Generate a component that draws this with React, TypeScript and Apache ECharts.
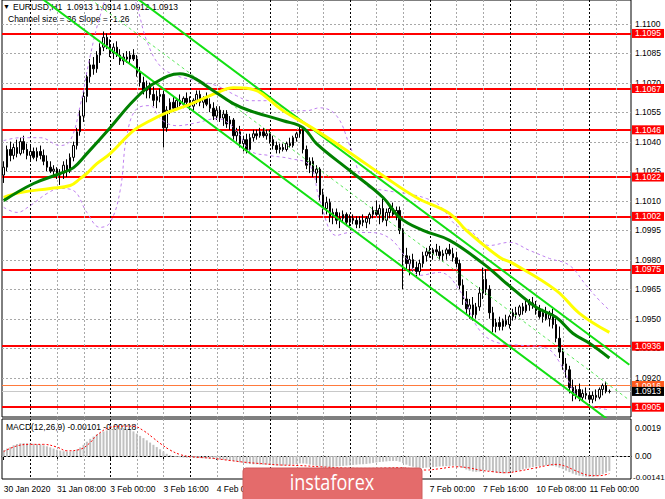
import React, { useEffect, useRef } from "react";
import * as echarts from "echarts";

const FONT = '"Liberation Sans", Arial, sans-serif';

const TICK_LABELS = [
  "30 Jan 2020", "31 Jan 08:00", "3 Feb 00:00", "3 Feb 16:00", "4 Feb 08:00", "5 Feb 00:00",
  "5 Feb 16:00", "6 Feb 08:00", "7 Feb 00:00", "7 Feb 16:00", "10 Feb 08:00", "11 Feb 00:00",
];
const N_SLOTS = 189;
const BARS_PER_LABEL = 16;
const GRID_EVERY = 8;
const DAY_STARTS = [8, 32, 56, 80, 104, 128, 152, 176];

// [open, high, low, close]
const CANDLES: number[][] = [
  [1.1023,1.1030,1.1019,1.1027],[1.1027,1.1038,1.1025,1.1036],[1.1036,1.1040,1.1030,1.1033],[1.1033,1.1039,1.1031,1.1037],
  [1.1037,1.1041,1.1032,1.1034],[1.1034,1.1042,1.1033,1.1040],[1.1040,1.1043,1.1034,1.1036],[1.1036,1.1039,1.1031,1.1033],
  [1.1033,1.1038,1.1030,1.1035],[1.1035,1.1037,1.1031,1.1032],[1.1032,1.1037,1.1030,1.1035],[1.1035,1.1038,1.1031,1.1033],
  [1.1033,1.1036,1.1028,1.1030],[1.1030,1.1033,1.1025,1.1027],[1.1027,1.1030,1.1024,1.1025],[1.1025,1.1028,1.1022,1.1026],
  [1.1026,1.1027,1.1021,1.1023],[1.1023,1.1026,1.1018,1.1024],[1.1024,1.1030,1.1021,1.1028],[1.1028,1.1031,1.1022,1.1025],
  [1.1025,1.1034,1.1024,1.1032],[1.1032,1.1040,1.1030,1.1038],[1.1038,1.1047,1.1036,1.1045],[1.1045,1.1056,1.1043,1.1053],
  [1.1053,1.1066,1.1050,1.1063],[1.1063,1.1075,1.1060,1.1073],[1.1073,1.1082,1.1070,1.1079],[1.1079,1.1083,1.1074,1.1077],
  [1.1077,1.1086,1.1075,1.1084],[1.1084,1.1090,1.1080,1.1088],[1.1088,1.1096,1.1086,1.1093],[1.1093,1.1095,1.1087,1.1089],
  [1.1089,1.1092,1.1083,1.1085],[1.1085,1.1090,1.1082,1.1088],[1.1088,1.1091,1.1083,1.1084],[1.1084,1.1087,1.1079,1.1081],
  [1.1081,1.1085,1.1079,1.1083],[1.1083,1.1086,1.1080,1.1082],[1.1082,1.1086,1.1080,1.1084],[1.1084,1.1087,1.1081,1.1082],
  [1.1082,1.1084,1.1073,1.1075],[1.1075,1.1078,1.1068,1.1070],[1.1070,1.1073,1.1064,1.1066],[1.1066,1.1071,1.1062,1.1068],
  [1.1068,1.1070,1.1062,1.1064],[1.1064,1.1068,1.1058,1.1061],[1.1061,1.1066,1.1057,1.1063],[1.1063,1.1067,1.1060,1.1064],
  [1.1064,1.1066,1.1037,1.1047],[1.1047,1.1058,1.1045,1.1056],[1.1056,1.1062,1.1054,1.1060],[1.1060,1.1063,1.1055,1.1057],
  [1.1057,1.1062,1.1056,1.1061],[1.1061,1.1064,1.1058,1.1059],[1.1059,1.1063,1.1057,1.1062],[1.1062,1.1065,1.1058,1.1060],
  [1.1060,1.1063,1.1056,1.1058],[1.1058,1.1062,1.1055,1.1061],[1.1061,1.1066,1.1059,1.1064],[1.1064,1.1066,1.1058,1.1060],
  [1.1060,1.1063,1.1057,1.1062],[1.1062,1.1065,1.1058,1.1059],[1.1059,1.1062,1.1055,1.1057],[1.1057,1.1060,1.1051,1.1053],
  [1.1053,1.1058,1.1051,1.1056],[1.1056,1.1058,1.1050,1.1052],[1.1052,1.1056,1.1048,1.1054],[1.1054,1.1056,1.1047,1.1049],
  [1.1049,1.1053,1.1046,1.1051],[1.1051,1.1052,1.1041,1.1043],[1.1043,1.1047,1.1040,1.1045],[1.1045,1.1048,1.1037,1.1039],
  [1.1039,1.1043,1.1035,1.1041],[1.1041,1.1044,1.1034,1.1036],[1.1036,1.1044,1.1035,1.1042],[1.1042,1.1046,1.1040,1.1044],
  [1.1044,1.1046,1.1041,1.1043],[1.1043,1.1047,1.1042,1.1045],[1.1045,1.1047,1.1042,1.1043],[1.1043,1.1046,1.1041,1.1044],
  [1.1044,1.1046,1.1039,1.1041],[1.1041,1.1043,1.1036,1.1038],[1.1038,1.1040,1.1034,1.1036],[1.1036,1.1039,1.1034,1.1037],
  [1.1037,1.1039,1.1035,1.1036],[1.1036,1.1040,1.1035,1.1039],[1.1039,1.1042,1.1037,1.1038],[1.1038,1.1043,1.1037,1.1042],
  [1.1042,1.1045,1.1040,1.1044],[1.1044,1.1048,1.1042,1.1046],[1.1046,1.1047,1.1034,1.1036],[1.1036,1.1038,1.1026,1.1028],
  [1.1028,1.1032,1.1024,1.1030],[1.1030,1.1032,1.1022,1.1024],[1.1024,1.1028,1.1019,1.1026],[1.1026,1.1027,1.1010,1.1013],
  [1.1013,1.1016,1.1003,1.1006],[1.1006,1.1012,1.1003,1.1009],[1.1009,1.1011,1.0999,1.1002],[1.1002,1.1006,1.0998,1.1004],
  [1.1004,1.1006,1.0998,1.1000],[1.1000,1.1004,1.0996,1.1001],[1.1001,1.1005,1.0999,1.1003],[1.1003,1.1004,1.0997,1.0999],
  [1.0999,1.1003,1.0997,1.1001],[1.1001,1.1003,1.0998,1.1000],[1.1000,1.1002,1.0996,1.0998],[1.0998,1.1002,1.0996,1.1000],
  [1.1000,1.1003,1.0997,1.0999],[1.0999,1.1002,1.0996,1.1001],[1.1001,1.1004,1.0998,1.1003],[1.1003,1.1007,1.1001,1.1005],
  [1.1005,1.1010,1.1002,1.1003],[1.1003,1.1008,1.0998,1.1006],[1.1006,1.1011,1.0999,1.1000],[1.1000,1.1006,1.0997,1.1004],
  [1.1004,1.1008,1.1001,1.1006],[1.1006,1.1009,1.1002,1.1003],[1.1003,1.1007,1.1000,1.1005],[1.1005,1.1007,1.0993,1.0995],
  [1.0995,1.0996,1.0965,1.0982],[1.0982,1.0986,1.0975,1.0978],[1.0978,1.0982,1.0972,1.0980],[1.0980,1.0983,1.0974,1.0976],
  [1.0976,1.0979,1.0971,1.0974],[1.0974,1.0980,1.0972,1.0978],[1.0978,1.0984,1.0976,1.0982],[1.0982,1.0986,1.0979,1.0984],
  [1.0984,1.0987,1.0981,1.0983],[1.0983,1.0986,1.0980,1.0985],[1.0985,1.0988,1.0982,1.0984],[1.0984,1.0987,1.0980,1.0982],
  [1.0982,1.0985,1.0979,1.0983],[1.0983,1.0986,1.0980,1.0985],[1.0985,1.0988,1.0982,1.0983],[1.0983,1.0986,1.0979,1.0981],
  [1.0981,1.0984,1.0976,1.0978],[1.0978,1.0980,1.0965,1.0967],[1.0967,1.0970,1.0957,1.0960],[1.0960,1.0964,1.0952,1.0955],
  [1.0955,1.0960,1.0950,1.0957],[1.0957,1.0961,1.0949,1.0952],[1.0952,1.0958,1.0950,1.0956],[1.0956,1.0966,1.0954,1.0963],
  [1.0963,1.0976,1.0960,1.0970],[1.0970,1.0975,1.0962,1.0965],[1.0965,1.0967,1.0950,1.0953],[1.0953,1.0956,1.0943,1.0946],
  [1.0946,1.0950,1.0943,1.0948],[1.0948,1.0951,1.0944,1.0946],[1.0946,1.0950,1.0944,1.0949],[1.0949,1.0952,1.0946,1.0947],
  [1.0947,1.0952,1.0945,1.0951],[1.0951,1.0955,1.0949,1.0953],[1.0953,1.0956,1.0950,1.0952],[1.0952,1.0957,1.0951,1.0956],
  [1.0956,1.0958,1.0952,1.0954],[1.0954,1.0959,1.0953,1.0957],[1.0957,1.0960,1.0954,1.0958],[1.0958,1.0961,1.0955,1.0956],
  [1.0956,1.0959,1.0952,1.0954],[1.0954,1.0957,1.0950,1.0951],[1.0951,1.0955,1.0948,1.0953],[1.0953,1.0956,1.0949,1.0950],
  [1.0950,1.0954,1.0946,1.0952],[1.0952,1.0955,1.0945,1.0947],[1.0947,1.0950,1.0938,1.0940],[1.0940,1.0946,1.0930,1.0933],
  [1.0933,1.0935,1.0924,1.0927],[1.0927,1.0930,1.0920,1.0924],[1.0924,1.0926,1.0912,1.0915],[1.0915,1.0919,1.0908,1.0911],
  [1.0911,1.0916,1.0909,1.0914],[1.0914,1.0917,1.0908,1.0910],[1.0910,1.0914,1.0908,1.0912],[1.0912,1.0915,1.0909,1.0911],
  [1.0911,1.0913,1.0907,1.0909],[1.0909,1.0913,1.0907,1.0911],[1.0911,1.0914,1.0908,1.0910],[1.0910,1.0915,1.0909,1.0914],
  [1.0914,1.0917,1.0911,1.0916],[1.0916,1.0918,1.0912,1.0913],[1.0913,1.0914,1.0912,1.0913],
];

const MA_GREEN = [[0,1.1010],[9,1.10187],[17,1.10238],[21,1.10268],[25,1.10339],[32,1.10471],[39,1.10608],[45,1.10694],[53,1.10745],[57,1.10725],[63,1.10659],[69,1.10593],[74,1.10557],[84,1.10506],[90,1.10471],[94,1.1039],[104,1.10253],[114,1.10116],[119,1.10014],[126,1.09949],[134,1.09898],[144,1.09781],[149,1.0971],[151,1.0968],[160,1.09558],[166,1.09507],[171,1.09426],[176,1.09375],[182,1.0930]];
const MA_YELLOW = [[0,1.10116],[5,1.10141],[14,1.10162],[20,1.10177],[23,1.10212],[25,1.10238],[28,1.10288],[32,1.10339],[39,1.10456],[44,1.10506],[49,1.10547],[55,1.10583],[64,1.10648],[69,1.10674],[74,1.10669],[84,1.10557],[94,1.10456],[104,1.10344],[114,1.10227],[124,1.10116],[134,1.10035],[139,1.09949],[149,1.09812],[153,1.09781],[166,1.09644],[173,1.09527],[182,1.0943]];
const BB_UPPER = [[0,1.10405],[5,1.1042],[11,1.1042],[17,1.1038],[20,1.10405],[23,1.10583],[26,1.10836],[29,1.1104],[32,1.11166],[37,1.11217],[40,1.1109],[43,1.10912],[47,1.10785],[52,1.10735],[58,1.1071],[64,1.10684],[70,1.10633],[74,1.10608],[80,1.10608],[86,1.10557],[91,1.10557],[95,1.10572],[100,1.10532],[104,1.1038],[109,1.10177],[115,1.10151],[121,1.10136],[127,1.10111],[131,1.10075],[136,1.09974],[140,1.09949],[146,1.09872],[152,1.09888],[158,1.09847],[164,1.09806],[170,1.09771],[175,1.0967],[179,1.09593],[182,1.09543]];
const BB_LOWER = [[0,1.10066],[4,1.1004],[8,1.10075],[13,1.10136],[17,1.10162],[21,1.10151],[25,1.1004],[29,1.09964],[32,1.09989],[35,1.10151],[37,1.1043],[40,1.10567],[44,1.10583],[47,1.10517],[52,1.10481],[58,1.10496],[64,1.10517],[70,1.10456],[74,1.10354],[80,1.10329],[86,1.10314],[92,1.10278],[95,1.10101],[100,1.09923],[104,1.09938],[110,1.09938],[116,1.09908],[121,1.09807],[125,1.0972],[131,1.09735],[137,1.09644],[143,1.09441],[149,1.09375],[155,1.09365],[163,1.0935],[167,1.09279],[172,1.09112],[176,1.09061],[182,1.09036]];

const CHANNEL_UPPER = [[0, 1.11632], [188, 1.09266]];
const CHANNEL_MID = [[0, 1.11452], [188, 1.09086]];
const CHANNEL_LOWER = [[0, 1.11272], [188, 1.08906]];
const CHANNEL_SIZE = 36;
const CHANNEL_SLOPE = -1.26;

const MACD_MAIN = [
  0.0004,0.0005,0.0006,0.00072,0.0008,0.00085,0.00086,0.00085,0.00084,0.00082,0.0008,0.00078,0.00072,0.00065,0.00058,0.0005,
  0.00042,0.00036,0.00032,0.0003,0.0003,0.00034,0.00044,0.00058,0.00075,0.00096,0.00115,0.0013,0.00145,0.00155,0.00165,0.00172,
  0.00178,0.00182,0.00186,0.00188,0.00186,0.00182,0.00175,0.00165,0.0015,0.00135,0.0012,0.00105,0.0009,0.00075,0.0006,0.00045,
  0.0003,0.00015,0.00005,-0.00002,-0.00005,-0.00008,-0.0001,-0.00012,-0.00012,-0.00013,-0.00014,-0.00014,-0.00015,-0.00016,-0.00018,-0.0002,
  -0.00022,-0.00024,-0.00026,-0.00028,-0.0003,-0.00034,-0.00038,-0.00042,-0.00046,-0.0005,-0.00053,-0.00055,-0.00056,-0.00057,-0.00058,-0.00058,
  -0.0006,-0.00062,-0.00064,-0.00065,-0.00064,-0.00062,-0.0006,-0.00057,-0.00054,-0.0005,-0.0005,-0.00052,-0.00058,-0.00062,-0.00066,-0.0007,
  -0.00074,-0.00076,-0.00075,-0.00072,-0.0007,-0.00068,-0.00066,-0.00064,-0.00062,-0.0006,-0.00058,-0.00056,-0.00055,-0.00053,-0.0005,-0.00046,
  -0.00043,-0.0004,-0.00038,-0.00036,-0.00034,-0.00033,-0.00033,-0.00038,-0.00048,-0.00058,-0.00066,-0.00072,-0.00078,-0.0008,-0.0008,-0.00078,
  -0.00076,-0.00074,-0.00072,-0.0007,-0.00069,-0.00068,-0.00066,-0.00065,-0.00066,-0.00072,-0.0008,-0.0009,-0.00098,-0.00104,-0.00106,-0.00104,
  -0.00098,-0.00096,-0.001,-0.00108,-0.00112,-0.00115,-0.00116,-0.00115,-0.00112,-0.00108,-0.00102,-0.00096,-0.0009,-0.00084,-0.00078,-0.00074,
  -0.0007,-0.00068,-0.00066,-0.00064,-0.00064,-0.00066,-0.0007,-0.00078,-0.00088,-0.00098,-0.00108,-0.00118,-0.00126,-0.00132,-0.00136,-0.00139,
  -0.00141,-0.0014,-0.00136,-0.0013,-0.00122,-0.00112,-0.00101,
];
const MACD_SIGNAL = [[0,0.0003],[4,0.00068],[8,0.00078],[12,0.00078],[16,0.0006],[19,0.00035],[23,0.00045],[26,0.0009],[28,0.0014],[32,0.00192],[36,0.002],[39,0.002],[42,0.0017],[45,0.0012],[47,0.00085],[50,0.0004],[53,0.0001],[56,-0.00004],[63,-0.00016],[68,-0.0003],[73,-0.00043],[78,-0.00052],[83,-0.0006],[89,-0.00064],[95,-0.00072],[102,-0.0008],[109,-0.00083],[115,-0.0008],[119,-0.00078],[123,-0.00086],[127,-0.00094],[131,-0.00085],[136,-0.00072],[140,-0.0008],[143,-0.00094],[147,-0.00105],[151,-0.00112],[155,-0.001],[159,-0.00083],[163,-0.00065],[166,-0.00056],[169,-0.0007],[171,-0.0009],[174,-0.00118],[176,-0.0013],[179,-0.00132],[182,-0.00118]];
const MACD_MAIN_LAST = -0.00101;
const MACD_SIGNAL_LAST = -0.00118;

const PRICE_GRID = [1.11, 1.1085, 1.107, 1.1055, 1.104, 1.1025, 1.101, 1.0995, 1.098, 1.0965, 1.095, 1.0935, 1.092];
const RED_LEVELS = [1.1095, 1.1067, 1.1046, 1.1022, 1.1002, 1.0975, 1.0936, 1.0905];
const ASK_LEVEL = 1.0916;
const BID_LEVEL = 1.0913;
const MACD_TOP_LABEL = 0.0019;
const MACD_BOTTOM_LABEL = -0.00141;

const PRICE_MIN = 1.09;
const PRICE_MAX = 1.1112;
const MACD_MIN = -0.00154;
const MACD_MAX = 0.00248;

const GRID_COLOR = "#a8a8a8";
const SEPARATOR_COLOR = "#000000";

function axisLabel(text: string, extra: any = {}) {
  return {
    show: true, position: "end", distance: 4, formatter: text, color: "#000",
    fontSize: 8.5, fontFamily: FONT, ...extra,
  };
}
function boxLabel(text: string, bg: string) {
  return axisLabel(text, {
    distance: 1, backgroundColor: bg, color: "#fff", padding: [1, 3, 0, 3], width: 26, lineHeight: 8,
  });
}

// vertical grid: [slot, yAnchor, isDaySeparator]
function vGridData(yAnchor: number): number[][] {
  const out: number[][] = [];
  for (let i = GRID_EVERY; i < N_SLOTS; i += GRID_EVERY) out.push([i, yAnchor, DAY_STARTS.indexOf(i) >= 0 ? 1 : 0]);
  return out;
}

// pixel-snapped grid lines drawn through the axes' own scales
function gridLinesSeries(ai: number, yAnchor: number, hLevels: number[]) {
  const data: number[][] = [
    ...hLevels.map((v) => [0, v, 2]),
    ...vGridData(yAnchor),
  ];
  return {
    type: "custom", xAxisIndex: ai, yAxisIndex: ai, z: 10, silent: true, clip: false,
    data, encode: { x: 0, y: 1 },
    renderItem: (params: any, api: any) => {
      const cs = params.coordSys;
      const kind = api.value(2);
      if (kind === 2) {
        const p = api.coord([0, api.value(1)]);
        const y = Math.round(p[1]) + 0.5;
        return {
          type: "line",
          shape: { x1: cs.x, y1: y, x2: cs.x + cs.width, y2: y },
          style: { stroke: GRID_COLOR, lineWidth: 1, lineDash: [2, 2], fill: null },
        };
      }
      const p = api.coord([api.value(0), api.value(1)]);
      const x = Math.round(p[0]) + 0.5;
      const day = kind === 1;
      return {
        type: "line",
        shape: { x1: x, y1: cs.y, x2: x, y2: cs.y + cs.height },
        style: { stroke: day ? SEPARATOR_COLOR : GRID_COLOR, lineWidth: 1, lineDash: [2, 2], fill: null },
      };
    },
  };
}

function buildOption(): any {
  const cats = Array.from({ length: N_SLOTS }, (_, i) => String(i));
  const last = CANDLES[CANDLES.length - 1];
  const mk = { symbol: ["none", "none"], silent: true, animation: false, precision: 8 };
  const hidden = { color: "rgba(0,0,0,0)", width: 0 };

  const line = (data: any, color: string, width: number, type: any, z: number, smooth: any = 0.4, xi = 0) => ({
    type: "line", xAxisIndex: xi, yAxisIndex: xi, data, showSymbol: false, symbol: "none", smooth,
    lineStyle: { color, width, type }, z, silent: true, clip: true,
  });
  const txt = { fontSize: 8.5, color: "#000", fontWeight: "normal", fontFamily: FONT };

  return {
    animation: false,
    backgroundColor: "#fff",
    title: [
      { text: "▼", left: 3, top: 3, padding: 0, textStyle: { ...txt, fontSize: 7 } },
      {
        text: `EURUSD,H1  ${last[0].toFixed(4)} ${last[1].toFixed(4)} ${last[2].toFixed(4)} ${last[3].toFixed(4)}`,
        left: 13, top: 2, padding: 0, textStyle: txt,
      },
      { text: `Channel size = ${CHANNEL_SIZE} Slope = ${CHANNEL_SLOPE.toFixed(2)}`, left: 8, top: 14, padding: 0, textStyle: txt },
      {
        text: `MACD(12,26,9) ${MACD_MAIN_LAST.toFixed(5)} ${MACD_SIGNAL_LAST.toFixed(5)}`,
        left: 6, top: 422, padding: 0, textStyle: txt,
      },
    ],
    grid: [
      { left: 2, top: -1, width: 629, height: 418, show: true, z: 0, borderColor: "#000", borderWidth: 1, backgroundColor: "rgba(0,0,0,0)" },
      { left: 2, top: 419, width: 629, height: 60, show: true, z: 0, borderColor: "#000", borderWidth: 1, backgroundColor: "rgba(0,0,0,0)" },
    ],
    xAxis: [
      {
        gridIndex: 0, type: "category", data: cats, boundaryGap: true,
        axisLine: { show: false }, axisTick: { show: false }, axisLabel: { show: false }, splitLine: { show: false }, splitArea: { show: false },
      },
      {
        gridIndex: 1, type: "category", data: cats, boundaryGap: true,
        axisLine: { show: true, lineStyle: { color: "#000" } },
        axisTick: { show: true, alignWithLabel: true, length: 4, interval: (i: number) => i % BARS_PER_LABEL === 0, lineStyle: { color: "#000" } },
        axisLabel: {
          interval: (i: number) => i % BARS_PER_LABEL === 0,
          formatter: (_v: string, i: number) => TICK_LABELS[i / BARS_PER_LABEL] ?? "",
          align: "left", margin: 5, fontSize: 8.5, color: "#000", fontFamily: FONT,
        },
        splitLine: { show: false }, splitArea: { show: false },
      },
    ],
    yAxis: [
      { gridIndex: 0, type: "value", min: PRICE_MIN, max: PRICE_MAX, show: false },
      { gridIndex: 1, type: "value", min: MACD_MIN, max: MACD_MAX, show: false },
    ],
    series: [
      gridLinesSeries(0, PRICE_MIN, PRICE_GRID),
      {
        type: "line", xAxisIndex: 0, yAxisIndex: 0, data: [], z: 10, silent: true,
        markLine: { ...mk, data: PRICE_GRID.map((v) => ({ yAxis: v, lineStyle: hidden, label: axisLabel(v.toFixed(4)) })) },
      },
      {
        type: "candlestick", xAxisIndex: 0, yAxisIndex: 0, z: 11, silent: true, barWidth: 2,
        data: CANDLES.map((c) => [c[0], c[3], c[2], c[1]]),
        itemStyle: { color: "#ffffff", color0: "#000000", borderColor: "#000000", borderColor0: "#000000", borderWidth: 1 },
      },
      {
        type: "line", xAxisIndex: 0, yAxisIndex: 0, data: [], z: 12, silent: true,
        markLine: {
          ...mk,
          data: RED_LEVELS.map((v) => ({ yAxis: v, lineStyle: { color: "#ff0000", type: "solid", width: 2 }, label: boxLabel(v.toFixed(4), "#ff0000") })),
        },
      },
      line(BB_UPPER, "#bf80f0", 1, [3, 3], 13),
      line(BB_LOWER, "#bf80f0", 1, [3, 3], 13),
      line(CHANNEL_UPPER, "#12e012", 2, "solid", 13, false),
      line(CHANNEL_LOWER, "#12e012", 2, "solid", 13, false),
      line(CHANNEL_MID, "#5ee85e", 1, [3, 3], 13, false),
      line(MA_YELLOW, "#ffff00", 3, "solid", 14),
      line(MA_GREEN, "#008000", 3, "solid", 15),
      {
        type: "line", xAxisIndex: 0, yAxisIndex: 0, data: [], z: 16, silent: true,
        markLine: {
          ...mk,
          data: [
            { yAxis: ASK_LEVEL, lineStyle: { color: "#ff7a3c", type: "solid", width: 1 }, label: boxLabel(ASK_LEVEL.toFixed(4), "#ff5a1e") },
            { yAxis: BID_LEVEL, lineStyle: { color: "#c8c8c8", type: "solid", width: 1 }, label: boxLabel(BID_LEVEL.toFixed(4), "#000000") },
          ],
        },
      },
      // MACD pane
      gridLinesSeries(1, MACD_MIN, [0]),
      {
        type: "line", xAxisIndex: 1, yAxisIndex: 1, data: [], z: 10, silent: true,
        markLine: {
          ...mk,
          data: [
            { yAxis: 0, lineStyle: hidden, label: axisLabel("0.00") },
            { yAxis: MACD_TOP_LABEL, lineStyle: hidden, label: axisLabel(String(MACD_TOP_LABEL)) },
            { yAxis: MACD_BOTTOM_LABEL, lineStyle: hidden, label: axisLabel(String(MACD_BOTTOM_LABEL), { distance: 2, fontSize: 8 }) },
          ],
        },
      },
      {
        type: "bar", xAxisIndex: 1, yAxisIndex: 1, data: MACD_MAIN, barWidth: 2, z: 11, silent: true,
        itemStyle: { color: "#c0c0c0" },
      },
      line(MACD_SIGNAL, "#ff0000", 1, [2, 2], 12, 0.4, 1),
    ],
    graphic: [
      {
        type: "rect", z: 100, shape: { x: 243, y: 468, width: 179, height: 40, r: 3 },
        style: { fill: "#e46b6b", stroke: "#cf5c5c", lineWidth: 1 },
      },
      {
        type: "text", z: 101, x: 332, y: 482, scaleX: 0.86,
        style: {
          text: "instaforex", fill: "#ffffff", font: '21px "Open Sans", sans-serif',
          align: "center", verticalAlign: "middle", textAlign: "center", textVerticalAlign: "middle",
        },
      },
    ],
  };
}

export default function App() {
  const ref = useRef<HTMLDivElement>(null);
  useEffect(() => {
    if (!ref.current) return;
    const chart = echarts.init(ref.current, undefined, { renderer: "svg" });
    chart.setOption(buildOption());
    return () => chart.dispose();
  }, []);
  return (
    <div
      ref={ref}
      style={{ position: "fixed", left: 0, top: 0, width: 665, height: 499, background: "#fff" }}
    />
  );
}
